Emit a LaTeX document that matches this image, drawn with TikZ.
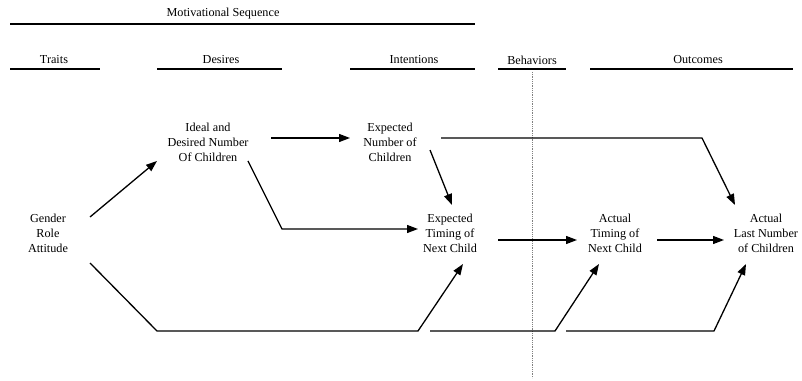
\documentclass[tikz,border=0pt]{standalone}
\usepackage{fontspec}
\setmainfont{Liberation Serif}
\usetikzlibrary{arrows.meta}
\begin{document}
\begin{tikzpicture}[x=1pt,y=1pt,
  lbl/.style={align=center,font=\fontsize{12.2}{15}\selectfont,inner sep=0pt},
  hdr/.style={font=\fontsize{12.2}{15}\selectfont,inner sep=0pt},
  hline/.style={line width=1.3pt},
  arr/.style={line width=1.3pt,-{Triangle[length=11pt,width=8pt]}},
  plain/.style={line width=1.3pt}]
\useasboundingbox (0,0) rectangle (802,380);
% headers
\node[hdr] (mot) at (223,366) {Motivational Sequence};
\draw[hline] (10,356) -- (475,356);
\node[hdr] (traits) at (54,320) {Traits};
\draw[hline] (10,311) -- (100,311);
\node[hdr] (desires) at (221,320) {Desires};
\draw[hline] (157,311) -- (282,311);
\node[hdr] (intent) at (414,320) {Intentions};
\draw[hline] (350,311) -- (475,311);
\node[hdr] (behav) at (532,320) {Behaviors};
\draw[hline] (498,311) -- (566,311);
\node[hdr] (outc) at (698,320) {Outcomes};
\draw[hline] (590,311) -- (793,311);
\draw[gray,line width=0.8pt,densely dotted] (532,308) -- (532,2);
% nodes
\node[lbl] (gra) at (48,147) {Gender\\Role\\Attitude};
\node[lbl] (ideal) at (208,238) {Ideal and\\Desired Number\\Of Children};
\node[lbl] (expnum) at (390,238) {Expected\\Number of\\Children};
\node[lbl] (exptim) at (450,147) {Expected\\Timing of\\Next Child};
\node[lbl] (acttim) at (615,147) {Actual\\Timing of\\Next Child};
\node[lbl] (actlast) at (766,147) {Actual\\Last Number\\of Children};
\coordinate (c1) at (430,49);
\coordinate (c2) at (566,49);
% connectors
\draw[arr] ([shift={(42,16)}]gra.center) -- ([shift={(-51,-19)}]ideal.center);
\draw[arr] ([shift={(63,4)}]ideal.center) -- ([shift={(-40,4)}]expnum.center);
\draw[arr] ([shift={(40,-19)}]ideal.center) -- (282,151) -- ([shift={(-32,4)}]exptim.center);
\draw[arr] ([shift={(40,-8)}]expnum.center) -- ([shift={(2,28)}]exptim.center);
\draw[arr] ([shift={(51,4)}]expnum.center) -- (702,242) -- ([shift={(-31,28)}]actlast.center);
\draw[arr] ([shift={(48,-7)}]exptim.center) -- ([shift={(-38,-7)}]acttim.center);
\draw[arr] ([shift={(42,-7)}]acttim.center) -- ([shift={(-42,-7)}]actlast.center);
\draw[arr] ([shift={(42,-30)}]gra.center) -- (157,49) -- (418,49) -- ([shift={(13,-31)}]exptim.center);
\draw[arr] (c1) -- (555,49) -- ([shift={(-16,-31)}]acttim.center);
\draw[arr] (c2) -- (714,49) -- ([shift={(-20,-31)}]actlast.center);
\end{tikzpicture}
\end{document}
